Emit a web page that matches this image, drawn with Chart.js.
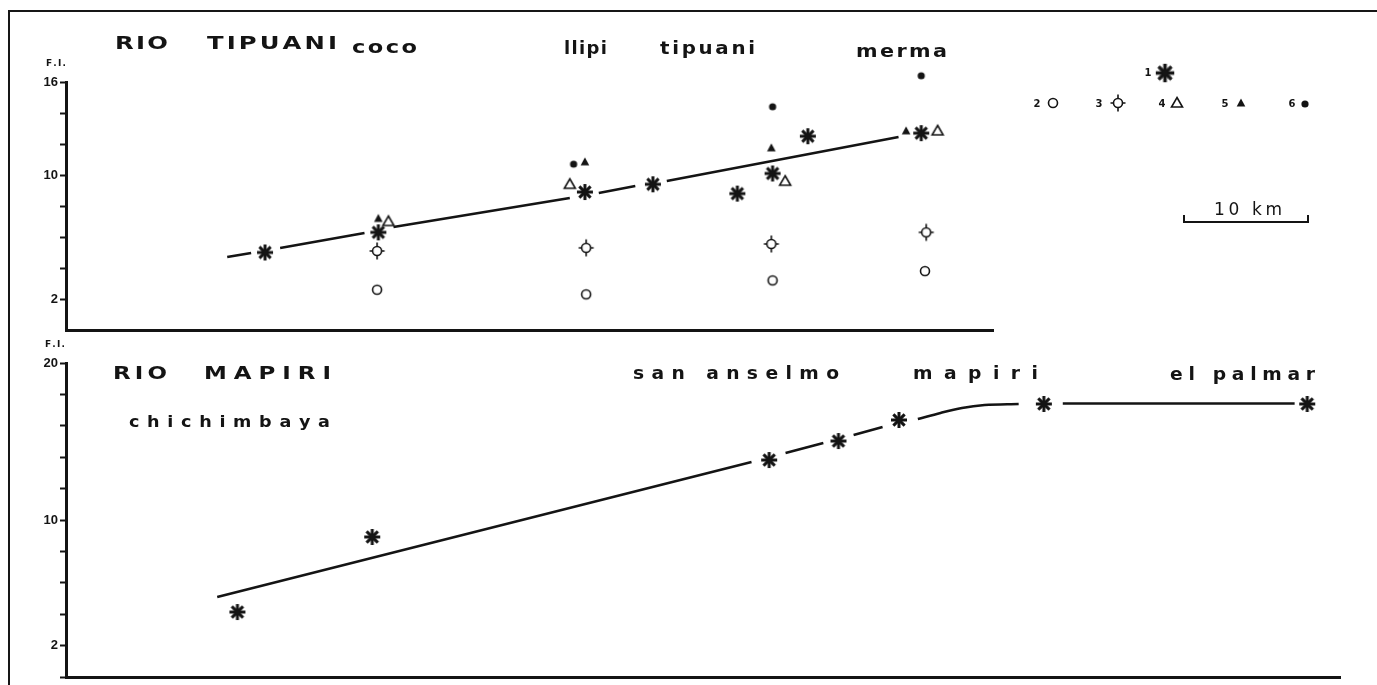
<!DOCTYPE html>
<html>
<head>
<meta charset="utf-8">
<title>Rio Tipuani / Rio Mapiri - F.I.</title>
<script src="https://cdn.jsdelivr.net/npm/chart.js@4.4.1/dist/chart.umd.min.js"></script>
<style>
  html, body { margin: 0; padding: 0; background: #fff; overflow: hidden; }
  #frame {
    position: absolute; left: 8px; top: 10px; width: 1369px; height: 690px;
    border-left: 2px solid #161616; border-top: 2px solid #161616;
  }
  canvas { position: absolute; left: 0; }
  #topChart { top: 0; }
  #bottomChart { top: 330px; }
</style>
</head>
<body>
<div id="frame"></div>
<canvas id="topChart" width="1377" height="345"></canvas>
<canvas id="bottomChart" width="1377" height="370"></canvas>
<script>
// ---- Rio Tipuani (upper panel): distance along river (km) and F.I. per symbol ----
const tipuaniKm1 = [15.8, 24.8, 41.2, 46.6, 53.3, 56.1, 58.9, 67.9];
const tipuaniFI1 = [5.0, 6.3, 8.9, 9.4, 8.8, 10.1, 12.5, 12.7];
const tipuaniKm2 = [24.7, 41.3, 56.1, 68.2];
const tipuaniFI2 = [2.6, 2.3, 3.2, 3.8];
const tipuaniKm3 = [24.7, 41.3, 56.0, 68.3];
const tipuaniFI3 = [5.1, 5.3, 5.55, 6.3];
const tipuaniKm4 = [25.6, 40.0, 57.1, 69.2];
const tipuaniFI4 = [7.0, 9.4, 9.6, 12.85];
const tipuaniKm5 = [24.8, 41.2, 56.0, 66.7];
const tipuaniFI5 = [7.2, 10.85, 11.75, 12.85];
const tipuaniKm6 = [40.3, 56.1, 67.9];
const tipuaniFI6 = [10.7, 14.4, 16.4];

// trend line, null = break in the line around a star
const tipuaniTrendKm = [12.8, 14.7, 15.8, 17.0, 23.7, 24.8, 26.0, 40.0, 41.2, 42.3, 45.2, 46.6, 47.7, 66.1];
const tipuaniTrendFI = [4.71, 4.97, null, 5.29, 6.26, null, 6.65, 8.52, null, 8.84, 9.29, null, 9.61, 12.45];

// ---- Rio Mapiri (lower panel) ----
const mapiriKm = [13.6, 24.3, 55.8, 61.3, 66.1, 77.6, 98.5];
const mapiriFI = [4.14, 8.92, 13.82, 15.03, 16.37, 17.39, 17.39];
const mapiriTrendKm = [12.0, 54.4, 55.8, 57.1, 60.1, 61.3, 62.5, 64.8, 66.1, 67.6, 69.4, 71.1, 72.9, 75.6, 77.6, 79.1, 97.5];
const mapiriTrendFI = [5.10, 13.69, null, 14.27, 14.90, null, 15.41, 15.92, null, 16.43, 16.82, 17.13, 17.32, 17.39, null, 17.42, 17.42];

// axis ticks
const tipuaniTickLabels = [2, 10, 16];
const mapiriTickLabels = [2, 10, 20];
const tipuaniMaxFI = 16;
const mapiriMaxFI = 20;
const tipuaniMaxKm = 73.6;
const mapiriMaxKm = 101.1;

// texts
const tipuaniTitle = ["RIO", "TIPUANI"];
const tipuaniSites = ["coco", "llipi", "tipuani", "merma"];
const mapiriTitle = ["RIO", "MAPIRI"];
const mapiriSites = ["chichimbaya", "san anselmo", "mapiri", "el palmar"];
const legendNumbers = ["1", "2", "3", "4", "5", "6"];
const scaleText = "10 km";
const axisName = "F.I.";

const INK = "#141414";

// --- marker images ---
function makeMarker(draw, size = 22) {
  const c = document.createElement("canvas");
  c.width = size;
  c.height = size;
  const ctx = c.getContext("2d");
  ctx.translate(size / 2, size / 2);
  ctx.strokeStyle = INK;
  ctx.fillStyle = INK;
  draw(ctx);
  return c;
}

const starMark = makeMarker((ctx) => {
  ctx.lineWidth = 3;
  for (let i = 0; i < 4; i++) {
    const a = (i * Math.PI) / 4;
    ctx.beginPath();
    ctx.moveTo(-8 * Math.cos(a), -8 * Math.sin(a));
    ctx.lineTo(8 * Math.cos(a), 8 * Math.sin(a));
    ctx.stroke();
  }
  ctx.beginPath();
  ctx.arc(0, 0, 3, 0, 2 * Math.PI);
  ctx.fill();
});

const openCircle = makeMarker((ctx) => {
  ctx.lineWidth = 1.6;
  ctx.fillStyle = "#fff";
  ctx.beginPath();
  ctx.arc(0, 0, 4.5, 0, 2 * Math.PI);
  ctx.fill();
  ctx.stroke();
});

const crossCircle = makeMarker((ctx) => {
  ctx.lineWidth = 1.6;
  ctx.fillStyle = "#fff";
  ctx.beginPath();
  ctx.arc(0, 0, 4.5, 0, 2 * Math.PI);
  ctx.fill();
  ctx.stroke();
  ctx.beginPath();
  ctx.moveTo(0, -4.5); ctx.lineTo(0, -8.5);
  ctx.moveTo(0, 4.5); ctx.lineTo(0, 8.5);
  ctx.moveTo(-4.5, 0); ctx.lineTo(-7.5, 0);
  ctx.moveTo(4.5, 0); ctx.lineTo(7.5, 0);
  ctx.stroke();
});

const openTriangle = makeMarker((ctx) => {
  ctx.lineWidth = 1.6;
  ctx.fillStyle = "#fff";
  ctx.beginPath();
  ctx.moveTo(0, -5.5);
  ctx.lineTo(5.5, 4);
  ctx.lineTo(-5.5, 4);
  ctx.closePath();
  ctx.fill();
  ctx.stroke();
});

const fullTriangle = makeMarker((ctx) => {
  ctx.beginPath();
  ctx.moveTo(0, -4.5);
  ctx.lineTo(4.3, 3.5);
  ctx.lineTo(-4.3, 3.5);
  ctx.closePath();
  ctx.fill();
});

const fullDot = makeMarker((ctx) => {
  ctx.beginPath();
  ctx.arc(0, 0, 3.6, 0, 2 * Math.PI);
  ctx.fill();
});

const legendMarks = [starMark, openCircle, crossCircle, openTriangle, fullTriangle, fullDot];

// --- helpers ---
function pts(xs, ys) {
  return xs.map((x, i) => ({ x: x, y: ys[i] }));
}

function markerSet(xs, ys, style) {
  return {
    data: pts(xs, ys),
    showLine: false,
    pointStyle: style,
    pointRadius: 8,
    pointHoverRadius: 8,
    clip: false,
    order: 1,
  };
}

function trendSet(xs, ys, smooth) {
  return {
    data: pts(xs, ys),
    showLine: true,
    borderColor: INK,
    borderWidth: 2.6,
    pointRadius: 0,
    pointHoverRadius: 0,
    spanGaps: false,
    cubicInterpolationMode: smooth ? "monotone" : "default",
    clip: false,
    order: 2,
  };
}

function yAxis(max, labels, hideZeroTick) {
  return {
    type: "linear",
    min: 0,
    max: max,
    afterFit: (s) => { s.width = 66; },
    border: { display: true, color: INK, width: 3 },
    grid: {
      drawOnChartArea: false,
      drawTicks: true,
      tickLength: 6,
      tickWidth: 2,
      tickColor: (c) => (hideZeroTick && c.tick && c.tick.value === 0 ? "rgba(0,0,0,0)" : INK),
    },
    ticks: {
      stepSize: 2,
      autoSkip: false,
      padding: 2,
      color: INK,
      font: { family: '"Liberation Sans", Arial, sans-serif', size: 13, weight: "bold" },
      callback: (v) => (labels.includes(v) ? String(v) : ""),
    },
  };
}

function xAxis(max) {
  return {
    type: "linear",
    min: 0,
    max: max,
    afterFit: (s) => { s.height = 0; },
    border: { display: true, color: INK, width: 3 },
    grid: { drawOnChartArea: false, drawTicks: false },
    ticks: { display: false },
  };
}

// draw text with letters spread to a given width, sx stretches the glyphs
function drawSpaced(ctx, text, x, y, w, font, sx) {
  ctx.font = font;
  const chars = [...text];
  const widths = chars.map((c) => ctx.measureText(c).width * sx);
  const total = widths.reduce((a, b) => a + b, 0);
  const gap = chars.length > 1 ? (w - total) / (chars.length - 1) : 0;
  let cx = x;
  chars.forEach((c, i) => {
    ctx.save();
    ctx.translate(cx, y);
    ctx.scale(sx, 1);
    ctx.fillText(c, 0, 0);
    ctx.restore();
    cx += widths[i] + gap;
  });
}

const BOLD = (px) => `bold ${px}px "DejaVu Sans", sans-serif`;

// text layout in page pixels: [text, left, baseline, width, font, stretch]
const topTexts = [
  [tipuaniTitle[0], 115, 49, 53, BOLD(18), 1.35],
  [tipuaniTitle[1], 207, 49, 130, BOLD(18), 1.35],
  [tipuaniSites[0], 352, 53, 65, BOLD(18), 1.25],
  [tipuaniSites[1], 564, 54, 43, BOLD(18), 1.0],
  [tipuaniSites[2], 660, 54, 95, BOLD(18), 1.1],
  [tipuaniSites[3], 856, 57, 91, BOLD(18), 1.15],
  [axisName, 46, 66, 20, BOLD(9), 1.0],
];
const bottomTexts = [
  [mapiriTitle[0], 113, 379, 54, BOLD(17), 1.35],
  [mapiriTitle[1], 204, 379, 127, BOLD(17), 1.35],
  [mapiriSites[0], 129, 427, 201, BOLD(16), 1.1],
  [mapiriSites[1], 633, 379, 206, BOLD(17), 1.1],
  [mapiriSites[2], 913, 379, 125, BOLD(17), 1.1],
  [mapiriSites[3], 1170, 380, 145, BOLD(17), 1.1],
  [axisName, 45, 347, 20, BOLD(9), 1.0],
];
// legend: number position, marker position (page pixels)
const legendPlaces = [
  [1148, 73, 1165, 73],
  [1037, 104, 1053, 103],
  [1099, 104, 1118, 103],
  [1162, 104, 1177, 103],
  [1225, 104, 1241, 103],
  [1292, 104, 1305, 104],
];

function annotations(texts, offsetY, extras) {
  return {
    id: "annotations",
    afterDraw(chart) {
      const ctx = chart.ctx;
      ctx.save();
      ctx.fillStyle = INK;
      ctx.strokeStyle = INK;
      ctx.textBaseline = "alphabetic";
      texts.forEach(([t, x, y, w, f, sx]) => drawSpaced(ctx, t, x, y - offsetY, w, f, sx));
      if (extras) extras(ctx, offsetY);
      ctx.restore();
    },
  };
}

function drawLegendAndScale(ctx, offsetY) {
  ctx.textBaseline = "middle";
  ctx.textAlign = "center";
  ctx.font = BOLD(10);
  legendPlaces.forEach(([nx, ny, mx, my], i) => {
    ctx.fillText(legendNumbers[i], nx, ny - offsetY);
    const m = legendMarks[i];
    const k = i === 0 ? 1.15 : 1;
    ctx.drawImage(m, mx - (m.width * k) / 2, my - offsetY - (m.height * k) / 2, m.width * k, m.height * k);
  });
  ctx.textAlign = "left";
  ctx.textBaseline = "alphabetic";
  // scale bar
  ctx.lineWidth = 2;
  ctx.beginPath();
  ctx.moveTo(1184, 215 - offsetY);
  ctx.lineTo(1184, 222 - offsetY);
  ctx.lineTo(1308, 222 - offsetY);
  ctx.lineTo(1308, 215 - offsetY);
  ctx.stroke();
  drawSpaced(ctx, scaleText, 1214, 215 - offsetY, 68, '17px "DejaVu Sans", sans-serif', 1.0);
}

const commonOptions = {
  responsive: false,
  animation: false,
  events: [],
  plugins: { legend: { display: false }, tooltip: { enabled: false }, title: { display: false } },
};

document.addEventListener("DOMContentLoaded", () => {
  // upper panel
  new Chart(document.getElementById("topChart"), {
    type: "line",
    data: {
      datasets: [
        markerSet(tipuaniKm2, tipuaniFI2, openCircle),
        markerSet(tipuaniKm3, tipuaniFI3, crossCircle),
        markerSet(tipuaniKm4, tipuaniFI4, openTriangle),
        markerSet(tipuaniKm5, tipuaniFI5, fullTriangle),
        markerSet(tipuaniKm6, tipuaniFI6, fullDot),
        markerSet(tipuaniKm1, tipuaniFI1, starMark),
        trendSet(tipuaniTrendKm, tipuaniTrendFI, false),
      ],
    },
    options: {
      ...commonOptions,
      layout: { padding: { top: 82, bottom: 15, left: 0, right: 384 } },
      scales: { x: xAxis(tipuaniMaxKm), y: yAxis(tipuaniMaxFI, tipuaniTickLabels, true) },
    },
    plugins: [annotations(topTexts, 0, drawLegendAndScale)],
  });

  // lower panel
  new Chart(document.getElementById("bottomChart"), {
    type: "line",
    data: {
      datasets: [
        markerSet(mapiriKm, mapiriFI, starMark),
        trendSet(mapiriTrendKm, mapiriTrendFI, true),
      ],
    },
    options: {
      ...commonOptions,
      layout: { padding: { top: 33, bottom: 23, left: 0, right: 37 } },
      scales: { x: xAxis(mapiriMaxKm), y: yAxis(mapiriMaxFI, mapiriTickLabels, false) },
    },
    plugins: [annotations(bottomTexts, 330, null)],
  });
});
</script>
</body>
</html>
